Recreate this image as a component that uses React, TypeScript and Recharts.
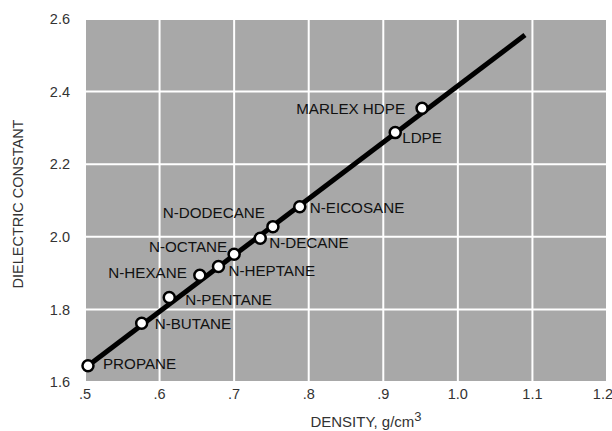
import { CartesianGrid, Scatter, ScatterChart, XAxis, YAxis } from "recharts";

// 各物質の名前・密度・誘電率
const materials = [
  "PROPANE",
  "N-BUTANE",
  "N-PENTANE",
  "N-HEXANE",
  "N-HEPTANE",
  "N-OCTANE",
  "N-DECANE",
  "N-DODECANE",
  "N-EICOSANE",
  "LDPE",
  "MARLEX HDPE",
];
const densities = [0.504, 0.576, 0.613, 0.654, 0.679, 0.7, 0.735, 0.752, 0.788, 0.916, 0.952];
const dielectric = [1.645, 1.762, 1.833, 1.894, 1.918, 1.952, 1.996, 2.028, 2.083, 2.287, 2.354];

// 回帰直線の両端
const fitDensity = [0.504, 1.09];
const fitDielectric = [1.645, 2.556];

const xTicks = [0.5, 0.6, 0.7, 0.8, 0.9, 1.0, 1.1, 1.2];
const yTicks = [1.6, 1.8, 2.0, 2.2, 2.4, 2.6];

const points = materials.map((name, i) => ({ name, x: densities[i], y: dielectric[i] }));
const fitLine = fitDensity.map((x, i) => ({ x, y: fitDielectric[i] }));

// ラベルの置き場所（点からのずれ）
const labelPlace: Record<string, { dx: number; dy: number; anchor: "start" | "end" }> = {
  PROPANE: { dx: 15, dy: -2, anchor: "start" },
  "N-BUTANE": { dx: 13, dy: 0, anchor: "start" },
  "N-PENTANE": { dx: 16, dy: 2, anchor: "start" },
  "N-HEXANE": { dx: -13, dy: -3, anchor: "end" },
  "N-HEPTANE": { dx: 10, dy: 4, anchor: "start" },
  "N-OCTANE": { dx: -7, dy: -8, anchor: "end" },
  "N-DECANE": { dx: 9, dy: 4, anchor: "start" },
  "N-DODECANE": { dx: -8, dy: -14, anchor: "end" },
  "N-EICOSANE": { dx: 10, dy: 1, anchor: "start" },
  LDPE: { dx: 7, dy: 5, anchor: "start" },
  "MARLEX HDPE": { dx: -17, dy: 0, anchor: "end" },
};

const FONT = "'Liberation Sans', Arial, Helvetica, sans-serif";

const fmtX = (v: number) => (v < 1 ? "." + Math.round(v * 10) : v.toFixed(1));

function PointShape(props: any) {
  const { cx, cy, payload } = props;
  const p = labelPlace[payload.name] || { dx: 10, dy: 0, anchor: "start" };
  return (
    <g>
      <circle cx={cx} cy={cy} r={5.5} fill="#fff" stroke="#000" strokeWidth={2.5} />
      <text
        x={cx + p.dx}
        y={cy + p.dy}
        textAnchor={p.anchor}
        dominantBaseline="central"
        fontFamily={FONT}
        fontSize={15.2}
        fill="#111"
      >
        {payload.name}
      </text>
    </g>
  );
}

export default function App() {
  return (
    <div style={{ position: "absolute", left: 0, top: 0, background: "#fff" }}>
      <ScatterChart width={612} height={431} margin={{ top: 19, right: 5, left: 15, bottom: 19 }}>
        <CartesianGrid fill="#a8a8a8" stroke="#fff" strokeWidth={2} fillOpacity={1} />
        <XAxis
          type="number"
          dataKey="x"
          domain={[0.5, 1.2]}
          ticks={xTicks}
          tickFormatter={fmtX}
          axisLine={false}
          tickLine={false}
          tickSize={0}
          tickMargin={7}
          height={30}
          tick={{ fontFamily: FONT, fontSize: 14.5, fill: "#333" }}
          label={{
            content: (props: any) => {
              const vb = props.viewBox || { x: 85, y: 382, width: 522, height: 30 };
              return (
                <text
                  x={vb.x + vb.width / 2 + 20}
                  y={vb.y + 45}
                  textAnchor="middle"
                  fontFamily={FONT}
                  fontSize={15}
                  fill="#333"
                >
                  DENSITY, g/cm
                  <tspan dy={-6} fontSize={13}>
                    3
                  </tspan>
                </text>
              );
            },
          }}
        />
        <YAxis
          type="number"
          dataKey="y"
          domain={[1.6, 2.6]}
          ticks={yTicks}
          tickFormatter={(v: number) => v.toFixed(1)}
          axisLine={false}
          tickLine={false}
          tickSize={0}
          tickMargin={15}
          width={70}
          tick={{ fontFamily: FONT, fontSize: 14.5, fill: "#333" }}
          label={{
            content: () => (
              <text
                x={18}
                y={204}
                transform="rotate(-90, 18, 204)"
                textAnchor="middle"
                dominantBaseline="central"
                fontFamily={FONT}
                fontSize={14.5}
                fill="#333"
              >
                DIELECTRIC CONSTANT
              </text>
            ),
          }}
        />
        <Scatter
          data={fitLine}
          line={{ stroke: "#000", strokeWidth: 5 }}
          shape={() => <g />}
          isAnimationActive={false}
        />
        <Scatter data={points} shape={PointShape} isAnimationActive={false} />
      </ScatterChart>
    </div>
  );
}
